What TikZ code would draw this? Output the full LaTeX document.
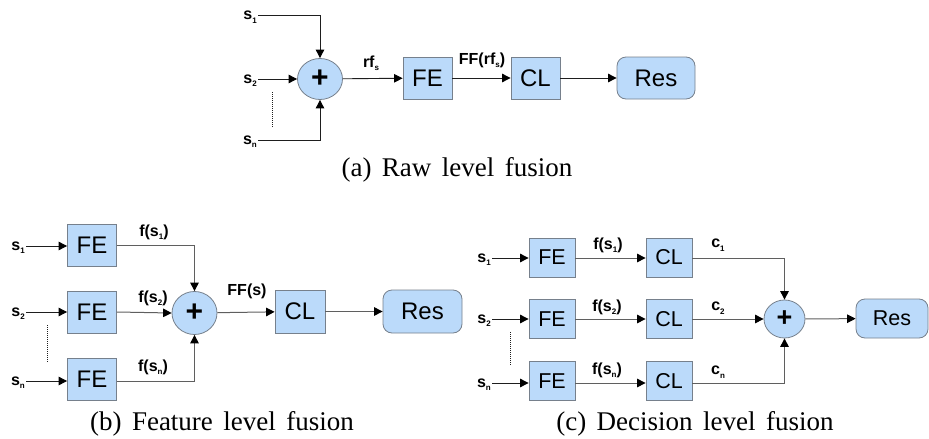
\documentclass[tikz,border=0pt]{standalone}
\usepackage{fontspec}
\setmainfont{Liberation Serif}
\setsansfont{Liberation Sans}
\newfontfamily\capserif{Liberation Serif}
\usetikzlibrary{arrows.meta,shapes.geometric}

\definecolor{boxfill}{RGB}{187,218,250}
\definecolor{boxline}{RGB}{118,128,140}
\definecolor{linec}{RGB}{30,30,30}
\definecolor{linegray}{RGB}{95,95,95}

% lowered subscript used in the signal labels
\newcommand{\lsub}[1]{\raisebox{-3.5pt}{\fontsize{8}{8}\selectfont\bfseries #1}}
% serif caption text with slightly wider word gaps
\newcommand{\capline}[1]{\capserif\fontsize{27}{27}\selectfont\spaceskip=10.5pt\relax #1}

\tikzset{
  blk/.style={draw=boxline, fill=boxfill, line width=0.8pt, inner sep=0pt,
    minimum width=49pt, minimum height=42pt,
    font=\fontsize{24}{24}\selectfont\sffamily},
  blksm/.style={blk, minimum width=46pt, minimum height=39pt,
    font=\fontsize{21.5}{21.5}\selectfont\sffamily},
  resblk/.style={rounded corners=9pt},
  sumnode/.style={ellipse, draw=boxline, fill=boxfill, line width=0.8pt,
    inner sep=0pt, minimum width=45pt, minimum height=41pt,
    font=\fontsize{30}{30}\selectfont\sffamily\bfseries},
  lab/.style={inner sep=1pt, font=\fontsize{16}{16}\selectfont\sffamily\bfseries},
  sig/.style={lab, anchor=east, text height=8pt, text depth=0pt},
  conn/.style={draw=linec, line width=0.9pt, -{Triangle[length=8.5pt,width=8.5pt, color=black]}},
  gconn/.style={conn, draw=linegray, line width=1pt},
  dotsline/.style={draw=linec, line width=0.8pt, dash pattern=on 1pt off 1pt},
  captext/.style={inner sep=0pt}
}

\begin{document}
\begin{tikzpicture}[x=1pt, y=-1pt]
\useasboundingbox (0,0) rectangle (929,439);

% ---------------- (a) raw level fusion ----------------
\node[sumnode] (sumA) at (320,79) {+};
\node[blk] (feA) at (427.5,78) {FE};
\node[blk] (clA) at (535.5,78) {CL};
\node[blk, resblk, minimum width=78pt] (resA) at (656,78) {Res};
\node[sig] (sA1) at (258,15.7) {s\lsub{1}};
\node[sig] (sA2) at (258,79) {s\lsub{2}};
\node[sig] (sAn) at (258,140) {s\lsub{n}};
\draw[conn] (sA1.east) -| (sumA.north);
\draw[conn] (sA2.east) -- (sumA.west);
\draw[conn] (sAn.east) -| (sumA.south);
\draw[dotsline] (272,92) -- (272,127);
\draw[conn] (sumA) -- (feA);
\draw[conn] (feA) -- (clA);
\draw[conn] (clA) -- (resA);
\node[lab] (rfA) at (371,63) {rf\lsub{s}};
\node[lab] (ffA) at (482,60) {FF(rf\lsub{s})};
\node[captext] (capA) at (457,170) {\capline{(a) Raw level fusion}};

% ---------------- (b) feature level fusion ----------------
\node[blk] (feB1) at (92,245) {FE};
\node[blk] (feB2) at (92,312) {FE};
\node[blk] (feB3) at (92,379) {FE};
\node[sumnode, minimum height=43pt] (sumB) at (194.5,313) {+};
\node[blk, minimum width=50pt, minimum height=43pt] (clB) at (300,311.5) {CL};
\node[blk, resblk, minimum width=79pt, minimum height=43pt] (resB) at (422.5,311.5) {Res};
\node[sig] (sB1) at (26,246) {s\lsub{1}};
\node[sig] (sB2) at (26,312) {s\lsub{2}};
\node[sig] (sBn) at (26,381) {s\lsub{n}};
\draw[conn] (sB1.east) -- (feB1.west |- sB1.east);
\draw[conn] (sB2.east) -- (feB2.west |- sB2.east);
\draw[conn] (sBn.east) -- (feB3.west |- sBn.east);
\draw[dotsline] (47,325) -- (47,362);
\draw[gconn] (feB1.east) -| (sumB.north);
\draw[gconn] (feB2.east) -- (sumB.west);
\draw[gconn] (feB3.east |- sBn.east) -| (sumB.south);
\draw[gconn] (sumB) -- (clB);
\draw[gconn] (clB) -- (resB);
\node[lab] (fB1) at (154,232) {f(s\lsub{1})};
\node[lab] (fB2) at (153,298) {f(s\lsub{2})};
\node[lab] (fBn) at (153,367) {f(s\lsub{n})};
\node[lab] (ffB) at (247,291) {FF(s)};
\node[captext] (capB) at (222,424) {\capline{(b) Feature level fusion}};

% ---------------- (c) decision level fusion ----------------
\node[blksm] (feC1) at (552,257.5) {FE};
\node[blksm] (feC2) at (552,319) {FE};
\node[blksm] (feC3) at (552,381) {FE};
\node[blksm] (clC1) at (669,257.5) {CL};
\node[blksm] (clC2) at (669,319) {CL};
\node[blksm] (clC3) at (669,381) {CL};
\node[sumnode, minimum width=41pt, minimum height=38pt,
      font=\fontsize{27}{27}\selectfont\sffamily\bfseries] (sumC) at (784.5,319) {+};
\node[blksm, resblk, minimum width=72pt] (resC) at (892,318.5) {Res};
\node[sig] (sC1) at (492,258) {s\lsub{1}};
\node[sig] (sC2) at (492,319) {s\lsub{2}};
\node[sig] (sCn) at (492,383) {s\lsub{n}};
\draw[conn] (sC1.east) -- (feC1.west |- sC1.east);
\draw[conn] (sC2.east) -- (feC2.west |- sC2.east);
\draw[conn] (sCn.east) -- (feC3.west |- sCn.east);
\draw[dotsline] (510,332) -- (510,365);
\draw[gconn] (feC1.east |- sC1.east) -- (clC1.west |- sC1.east);
\draw[gconn] (feC2) -- (clC2);
\draw[gconn] (feC3.east |- sCn.east) -- (clC3.west |- sCn.east);
\draw[gconn] (clC1.east |- sC1.east) -| (sumC.north);
\draw[gconn] (clC2) -- (sumC);
\draw[gconn] (clC3.east |- sCn.east) -| (sumC.south);
\draw[gconn] (sumC) -- (resC);
\node[lab] (fC1) at (608,245) {f(s\lsub{1})};
\node[lab] (fC2) at (607,307) {f(s\lsub{2})};
\node[lab] (fCn) at (607,370) {f(s\lsub{n})};
\node[lab] (cC1) at (718,245) {c\lsub{1}};
\node[lab] (cC2) at (718,308) {c\lsub{2}};
\node[lab] (cCn) at (718,372) {c\lsub{n}};
\node[captext] (capC) at (695,424) {\capline{(c) Decision level fusion}};
\end{tikzpicture}
\end{document}
